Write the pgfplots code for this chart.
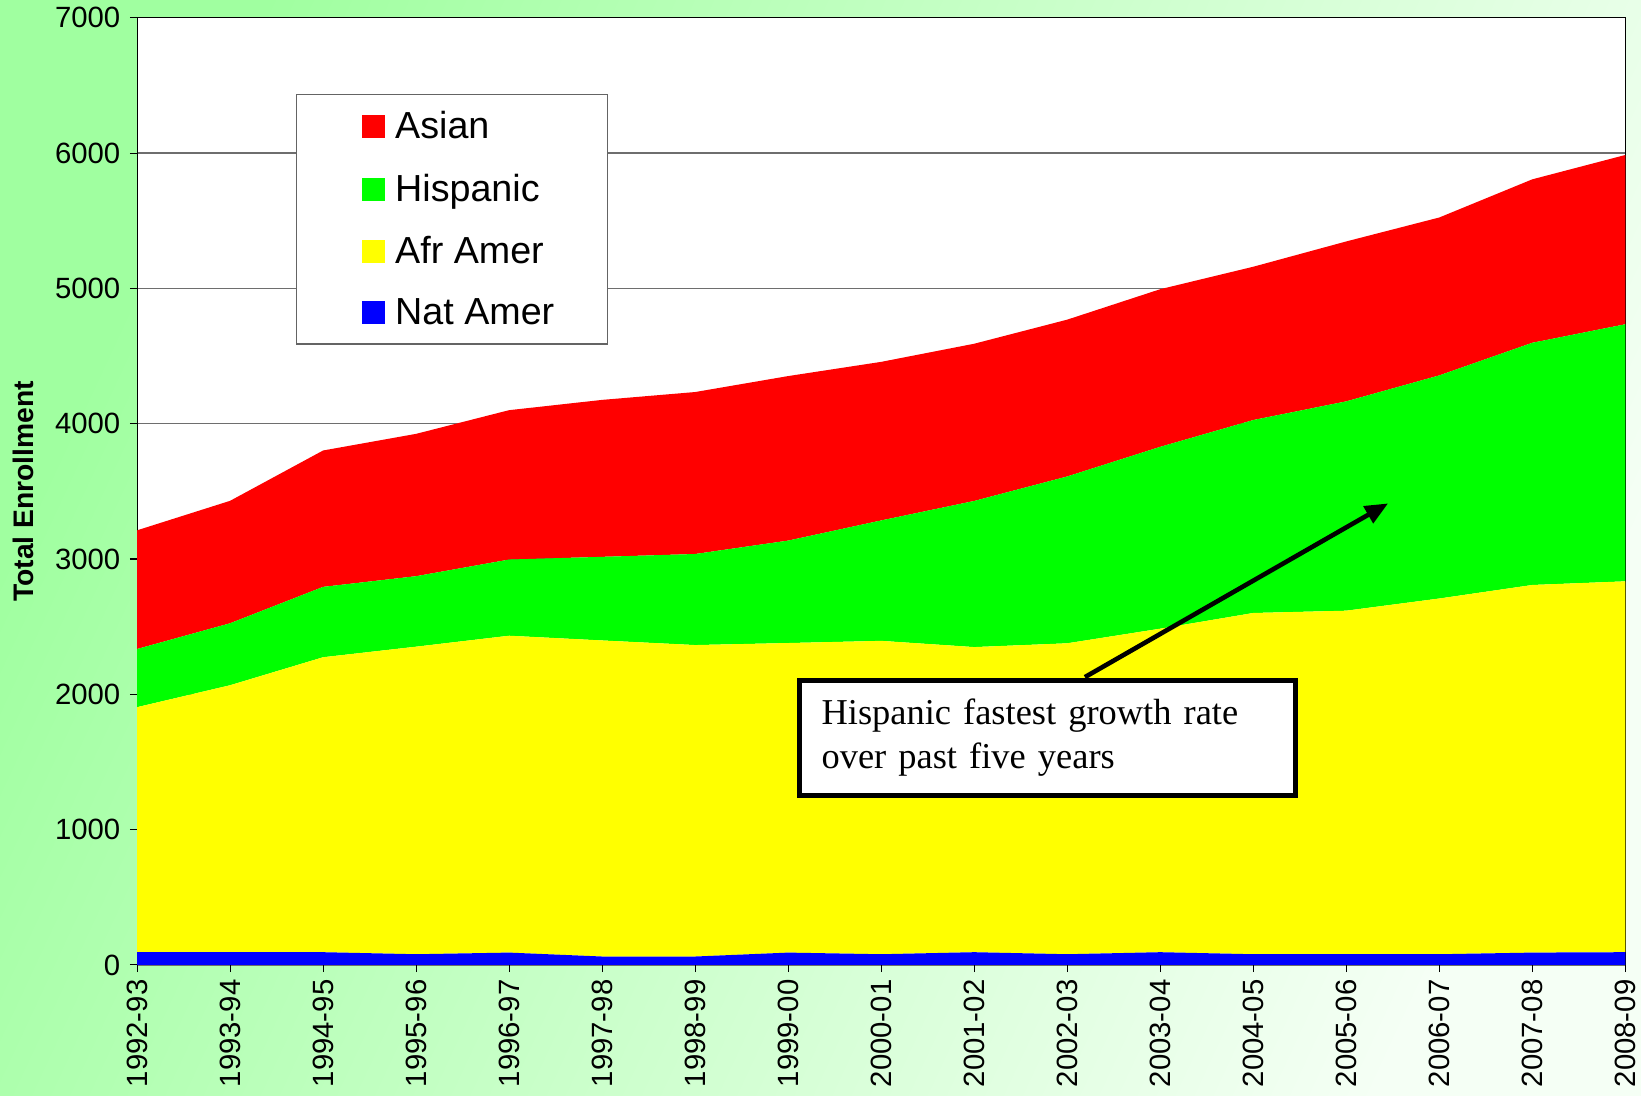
\documentclass[border=0pt]{standalone}
\usepackage{fontspec}
\setmainfont{Liberation Sans}
\newfontfamily\timesfont{Liberation Serif}
\usepackage{pgfplots}
\usepackage{pgfplotstable}
\pgfplotsset{compat=1.18}
\usetikzlibrary{arrows.meta}
\definecolor{bgUL}{RGB}{160,255,160}
\definecolor{bgLR}{RGB}{245,255,245}
\definecolor{gridgray}{RGB}{110,110,110}
\definecolor{legframe}{RGB}{100,100,100}
\definecolor{cRed}{RGB}{255,0,0}
\definecolor{cGreen}{RGB}{0,255,0}
\definecolor{cYellow}{RGB}{255,255,0}
\definecolor{cBlue}{RGB}{0,0,255}

% x: 0 = 1992-93 ... 16 = 2008-09 ; increments for stacking
\pgfplotstableread{
x  nat  afr   hisp  asian
0  94   1811  430   877
1  94   1973  458   905
2  94   2180  520   1008
3  79   2273  521   1052
4  91   2342  563   1104
5  62   2336  618   1160
6  62   2302  673   1197
7  91   2288  757   1216
8  79   2316  890   1172
9  94   2255  1080  1162
10 79   2298  1233  1159
11 94   2391  1344  1165
12 79   2522  1426  1133
13 79   2539  1547  1182
14 79   2629  1649  1167
15 91   2717  1790  1208
16 94   2741  1900  1251
}\enroll

\begin{document}
\begin{tikzpicture}
\shade[top color=bgUL, bottom color=bgLR, shading angle=65] (-65.5pt,-62.5pt) rectangle (718.5pt,461pt);
\useasboundingbox (-65.5pt,-62.5pt) rectangle (718.5pt,461pt);
\begin{axis}[
  at={(0pt,0pt)}, anchor=south west,
  scale only axis, width=711pt, height=452.5pt,
  xmin=0, xmax=16, ymin=0, ymax=7000,
  stack plots=y,
  axis background/.style={fill=white},
  axis line style={black, line width=0.5pt},
  xtick={0,...,16},
  xticklabels={1992-93,1993-94,1994-95,1995-96,1996-97,1997-98,1998-99,1999-00,2000-01,2001-02,2002-03,2003-04,2004-05,2005-06,2006-07,2007-08,2008-09},
  ytick={0,1000,...,7000},
  tick pos=left,
  tick align=outside,
  major tick length=3.5pt,
  tick style={black, line width=0.5pt},
  ymajorgrids,
  grid style={gridgray, line width=0.6pt},
  /pgf/number format/1000 sep={},
  /pgf/number format/assume math mode=true,
  tick label style={font=\fontsize{14}{16}\selectfont},
  yticklabel style={xshift=-1pt},
  xticklabel style={rotate=90, anchor=east},
  ylabel={Total Enrollment},
  ylabel style={at={(axis description cs:-0.0767,0.5)}, anchor=center, font=\bfseries\fontsize{13.5}{16}\selectfont},
  reverse legend,
  legend cell align=left,
  legend image code/.code={\path[draw=none, fill=none] (0pt,0pt) -- (21.5pt,0pt);\fill[#1] (7.5pt,-5.5pt) rectangle (18.5pt,5.5pt);},
  legend style={at={(0.1069,0.9193)}, anchor=north west, draw=legframe, line width=0.6pt, fill=white,
    font=\fontsize{18}{21}\selectfont, inner xsep=23.5pt, inner ysep=6pt, row sep=11.2pt},
]
\addplot[fill=cBlue, draw=none] table[x=x, y=nat] {\enroll} \closedcycle;
\addlegendentry{Nat Amer}
\addplot[fill=cYellow, draw=none] table[x=x, y=afr] {\enroll} \closedcycle;
\addlegendentry{Afr Amer}
\addplot[fill=cGreen, draw=none] table[x=x, y=hisp] {\enroll} \closedcycle;
\addlegendentry{Hispanic}
\addplot[fill=cRed, draw=none] table[x=x, y=asian] {\enroll} \closedcycle;
\addlegendentry{Asian}

\coordinate (arrS) at (axis cs:10.19,2127);
\coordinate (arrE) at (axis cs:13.45,3411);
\coordinate (boxNW) at (axis cs:7.098,2119);
\end{axis}
\draw[line width=2.2pt, -{Triangle[length=11pt,width=9pt]}] (arrS) -- (arrE);
\node[draw=black, line width=2.2pt, fill=white, anchor=north west, inner xsep=10.5pt, inner ysep=4pt,
      text width=216pt, minimum height=55pt, align=left,
      font=\timesfont\fontsize{17.4}{21}\selectfont] at (boxNW)
      {Hispanic fastest growth rate\\over past five years};
\end{tikzpicture}
\end{document}
